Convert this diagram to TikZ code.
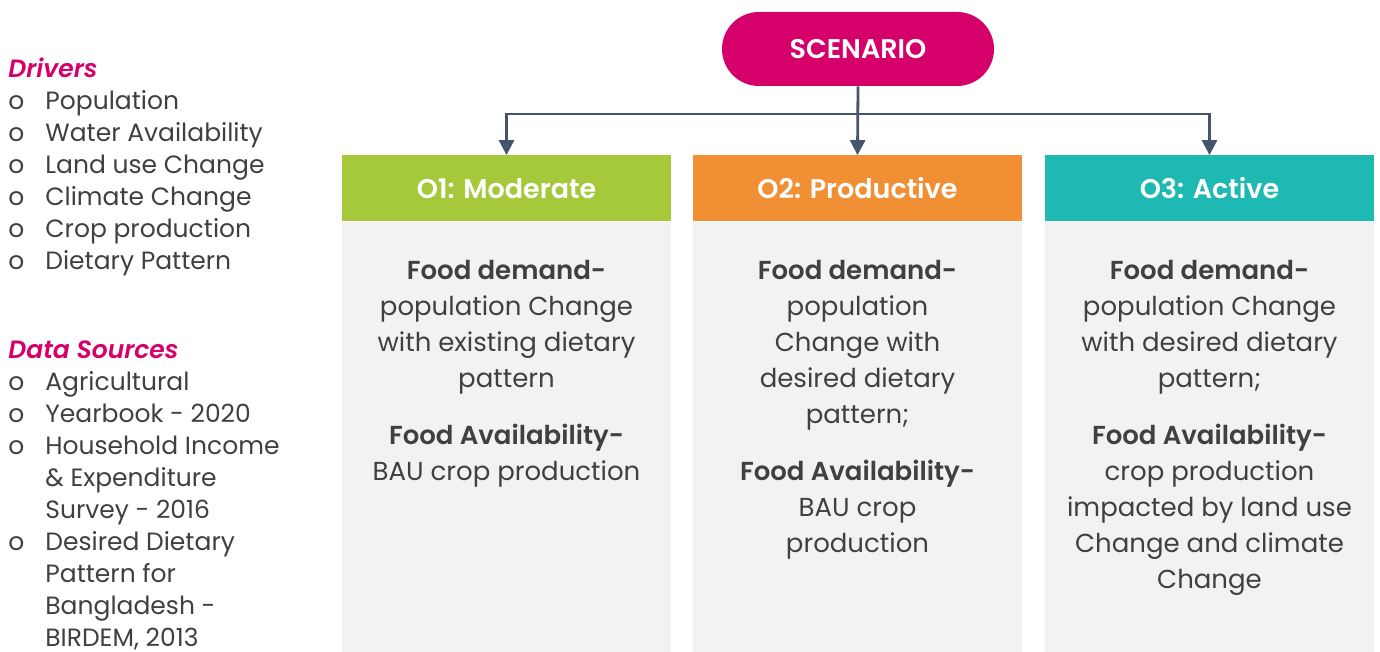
\documentclass[tikz,border=0pt]{standalone}
\usepackage{fontspec}
\setmainfont{Poppins}[BoldFont={Poppins SemiBold}, BoldItalicFont={Poppins SemiBold Italic}]
\usepackage{tikz}
\usetikzlibrary{arrows.meta, positioning}
\definecolor{scenpink}{RGB}{214, 0, 106}
\definecolor{modgreen}{RGB}{165, 201, 58}
\definecolor{prodorange}{RGB}{241, 143, 52}
\definecolor{actteal}{RGB}{29, 185, 178}
\definecolor{panelgray}{RGB}{242, 242, 242}
\definecolor{linkslate}{RGB}{68, 84, 106}
\definecolor{bodytext}{RGB}{64, 64, 64}

\begin{document}
\begin{tikzpicture}[x=0.5pt, y=-0.5pt, >={Triangle[length=7.5pt, width=7.5pt]}, text=bodytext,
    font=\fontsize{13}{18}\selectfont]
  \useasboundingbox (0,0) rectangle (1380,652);

  % drivers and data sources
  \node[anchor=north west, inner sep=0, font=\fontsize{12.5}{16}\selectfont] (drv) at (8,55) {%
    \begin{tabular}{@{}p{18.5pt}@{}l@{}}
      \multicolumn{2}{@{}l}{\textcolor{scenpink}{\bfseries\itshape Drivers}}\\
      o & Population\\
      o & Water Availability\\
      o & Land use Change\\
      o & Climate Change\\
      o & Crop production\\
      o & Dietary Pattern
    \end{tabular}};
  \node[anchor=north west, inner sep=0, font=\fontsize{12.5}{16}\selectfont] (src) at (8,336) {%
    \begin{tabular}{@{}p{18.5pt}@{}l@{}}
      \multicolumn{2}{@{}l}{\textcolor{scenpink}{\bfseries\itshape Data Sources}}\\
      o & Agricultural\\
      o & Yearbook - 2020\\
      o & Household Income\\
        & \& Expenditure\\
        & Survey - 2016\\
      o & Desired Dietary\\
        & Pattern for\\
        & Bangladesh -\\
        & BIRDEM, 2013
    \end{tabular}};

  % scenario and the three options
  \node[fill=scenpink, rounded corners=18.5pt, minimum width=136pt, minimum height=37pt, text=white, font=\fontsize{13.5}{16}\selectfont\bfseries] (scen) at (858,49) {SCENARIO};

  \node[fill=modgreen, minimum width=164.5pt, minimum height=33pt, text=white, font=\fontsize{13.5}{16}\selectfont\bfseries] (o1) at (506.5,188.5) {O1: Moderate};
  \node[fill=prodorange, minimum width=164.5pt, minimum height=33pt, text=white, font=\fontsize{13.5}{16}\selectfont\bfseries] (o2) at (857.5,188.5) {O2: Productive};
  \node[fill=actteal, minimum width=164.5pt, minimum height=33pt, text=white, font=\fontsize{13.5}{16}\selectfont\bfseries] (o3) at (1209.5,188.5) {O3: Active};

  \node[fill=panelgray, minimum width=164.5pt, minimum height=215pt, below=0pt of o1] (p1) {};
  \node[fill=panelgray, minimum width=164.5pt, minimum height=215pt, below=0pt of o2] (p2) {};
  \node[fill=panelgray, minimum width=164.5pt, minimum height=215pt, below=0pt of o3] (p3) {};

  \node[align=center, inner sep=0, below=19pt of o1.south] (t1) {%
    \textbf{Food demand-}\\ population Change\\ with existing dietary\\ pattern\\[10.5pt]
    \textbf{Food Availability-}\\ BAU crop production};
  \node[align=center, inner sep=0, below=19pt of o2.south] (t2) {%
    \textbf{Food demand-}\\ population\\ Change with\\ desired dietary\\ pattern;\\[10.5pt]
    \textbf{Food Availability-}\\ BAU crop\\ production};
  \node[align=center, inner sep=0, below=19pt of o3.south] (t3) {%
    \textbf{Food demand-}\\ population Change\\ with desired dietary\\ pattern;\\[10.5pt]
    \textbf{Food Availability-}\\ crop production\\ impacted by land use\\ Change and climate\\ Change};

  % connectors
  \coordinate (bus) at (858,114);
  \draw[linkslate, line width=1.4pt, ->] (scen.south) -- (o2.north);
  \draw[linkslate, line width=1.4pt, ->] (bus) -| (o1.north);
  \draw[linkslate, line width=1.4pt, ->] (bus) -| (o3.north);
\end{tikzpicture}
\end{document}
